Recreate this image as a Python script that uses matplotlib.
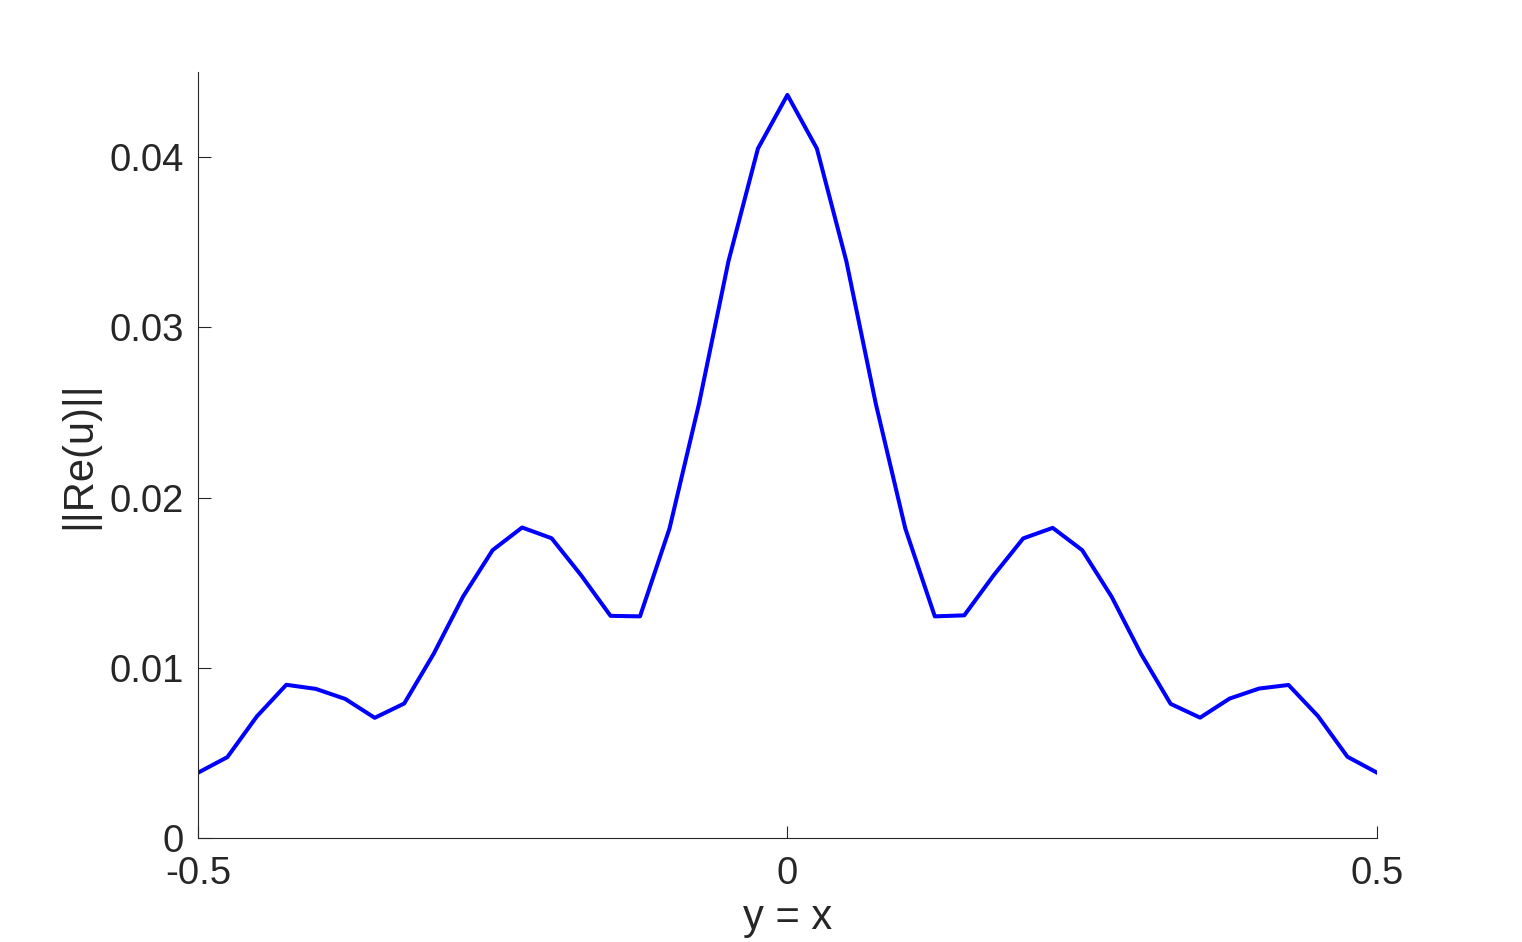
import numpy as np
import matplotlib
matplotlib.use("Agg")
from matplotlib import pyplot as plt

# samples along the diagonal y = x
x = np.linspace(-0.5, 0.5, 41)
re_norm = [0.00383, 0.00475, 0.00714, 0.00900, 0.00876, 0.00817, 0.00706,
           0.00790, 0.01082, 0.01419, 0.01691, 0.01824, 0.01761, 0.01544,
           0.01305, 0.01302, 0.01818, 0.02550, 0.03388, 0.04050, 0.04365,
           0.04050, 0.03388, 0.02550, 0.01818, 0.01302, 0.01308, 0.01544,
           0.01760, 0.01822, 0.01691, 0.01417, 0.01080, 0.00788, 0.00707,
           0.00819, 0.00878, 0.00899, 0.00716, 0.00477, 0.00384]
xticks = [-0.5, 0, 0.5]
xticklabels = ['-0.5', '0', '0.5']
yticks = [0, 0.01, 0.02, 0.03, 0.04]
yticklabels = ['0', '0.01', '0.02', '0.03', '0.04']

plt.rcParams['font.family'] = ['Liberation Sans', 'DejaVu Sans']
dark = '#262626'

fig = plt.figure(figsize=(15.22, 9.42), dpi=100)
ax = fig.add_axes([0.130, 0.1104, 0.7747, 0.8132])
ax.plot(x, re_norm, color=(0, 0, 1), lw=2.9)

ax.set_xlim(-0.5, 0.5)
ax.set_ylim(0, 0.045)
ax.set_xticks(xticks)
ax.set_xticklabels(xticklabels, fontsize=27.5)
ax.set_yticks(yticks)
ax.set_yticklabels(yticklabels, fontsize=27.5)

for s in ['top', 'right']:
    ax.spines[s].set_visible(False)
for s in ['left', 'bottom']:
    ax.spines[s].set_color(dark)
    ax.spines[s].set_linewidth(0.8)

ax.tick_params(direction='in', length=9, width=0.8, color=dark, labelcolor=dark)
ax.tick_params(axis='y', pad=10)
ax.tick_params(axis='x', pad=13)

ax.set_xlabel('y = x', color=dark, fontsize=30)
ax.set_ylabel('||Re(u)||', color=dark, fontsize=30)
ax.xaxis.set_label_coords(0.5, -0.0777)
ax.yaxis.set_label_coords(-0.0835, 0.5)

fig.savefig('out.png', dpi=100)
